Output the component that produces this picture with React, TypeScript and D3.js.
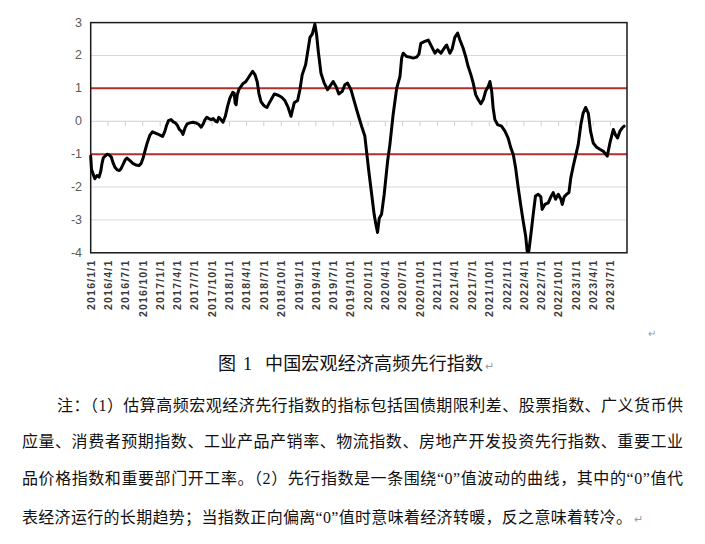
import React from 'react';
import * as d3 from 'd3';

// High-frequency leading index readings (date, index value)
const dates: string[] = [
  '2016-01-01','2016-01-05','2016-01-13','2016-01-23','2016-02-03','2016-02-14','2016-02-23','2016-02-29','2016-03-07','2016-03-18',
  '2016-03-28','2016-04-06','2016-04-18','2016-04-27','2016-05-08','2016-05-20','2016-05-31','2016-06-08','2016-06-19','2016-06-30',
  '2016-07-10','2016-07-26','2016-08-10','2016-08-26','2016-09-11','2016-09-23','2016-10-04','2016-10-13','2016-10-25','2016-11-08',
  '2016-11-22','2016-12-04','2016-12-16','2016-12-31','2017-01-14','2017-01-26','2017-02-04','2017-02-14','2017-02-27','2017-03-11',
  '2017-03-22','2017-04-01','2017-04-12','2017-04-22','2017-05-01','2017-05-12','2017-05-23','2017-06-07','2017-06-23','2017-07-08',
  '2017-07-24','2017-08-05','2017-08-14','2017-08-25','2017-09-04','2017-09-15','2017-09-27','2017-10-07','2017-10-20','2017-10-28',
  '2017-11-06','2017-11-17','2017-11-28','2017-12-10','2017-12-22','2018-01-03','2018-01-18','2018-01-26','2018-01-31','2018-02-05',
  '2018-02-11','2018-02-20','2018-03-02','2018-03-14','2018-03-27','2018-04-08','2018-04-19','2018-05-03','2018-05-15','2018-05-27',
  '2018-06-05','2018-06-16','2018-06-28','2018-07-07','2018-07-17','2018-08-02','2018-08-25','2018-09-15','2018-10-03','2018-10-20',
  '2018-11-06','2018-11-21','2018-12-08','2018-12-26','2019-01-07','2019-01-19','2019-02-06','2019-02-20','2019-03-01','2019-03-13',
  '2019-03-27','2019-04-05','2019-04-14','2019-04-28','2019-05-15','2019-06-02','2019-06-14','2019-07-01','2019-07-16','2019-07-31',
  '2019-08-18','2019-09-01','2019-09-15','2019-10-03','2019-10-20','2019-11-07','2019-11-28','2019-12-15','2019-12-24','2020-01-05',
  '2020-01-20','2020-02-02','2020-02-11','2020-02-20','2020-02-29','2020-03-12','2020-03-26','2020-04-13','2020-04-25','2020-05-12',
  '2020-05-31','2020-06-17','2020-06-26','2020-07-04','2020-07-22','2020-08-08','2020-08-26','2020-09-13','2020-09-25','2020-10-05',
  '2020-10-23','2020-11-13','2020-12-01','2020-12-18','2021-01-01','2021-01-19','2021-02-05','2021-02-18','2021-03-07','2021-03-19',
  '2021-04-02','2021-04-17','2021-04-29','2021-05-16','2021-05-29','2021-06-11','2021-06-26','2021-07-08','2021-07-21','2021-08-03',
  '2021-08-17','2021-08-30','2021-09-11','2021-09-25','2021-10-04','2021-10-13','2021-10-21','2021-10-30','2021-11-13','2021-12-04',
  '2021-12-22','2022-01-08','2022-01-22','2022-02-04','2022-02-16','2022-03-02','2022-03-16','2022-03-28','2022-04-10','2022-04-18',
  '2022-04-27','2022-05-08','2022-05-20','2022-06-01','2022-06-15','2022-06-29','2022-07-06','2022-07-20','2022-08-07','2022-08-21',
  '2022-09-02','2022-09-15','2022-09-29','2022-10-13','2022-10-20','2022-10-30','2022-11-12','2022-11-24','2022-12-04','2022-12-17',
  '2022-12-29','2023-01-12','2023-01-26','2023-02-07','2023-02-20','2023-03-06','2023-03-18','2023-04-01','2023-04-19','2023-05-06',
  '2023-05-24','2023-06-14','2023-06-28','2023-07-16','2023-07-28','2023-08-07','2023-08-20','2023-09-01','2023-09-11',
];

const values: number[] = [
  -1.06,-1.45,-1.60,-1.75,-1.65,-1.70,-1.52,-1.30,-1.12,-1.05,
  -1.00,-1.02,-1.08,-1.25,-1.40,-1.48,-1.50,-1.45,-1.32,-1.18,
  -1.12,-1.20,-1.28,-1.33,-1.35,-1.28,-1.10,-0.90,-0.65,-0.42,
  -0.32,-0.35,-0.38,-0.42,-0.46,-0.30,-0.12,0.02,0.05,-0.02,
  -0.05,-0.12,-0.25,-0.30,-0.40,-0.20,-0.08,-0.05,-0.03,-0.05,
  -0.10,-0.18,-0.10,0.05,0.12,0.08,0.05,0.08,0.00,-0.02,
  0.12,0.05,-0.03,0.15,0.45,0.70,0.88,0.85,0.55,0.50,
  0.80,0.97,1.05,1.15,1.20,1.30,1.40,1.52,1.42,1.20,
  0.85,0.60,0.50,0.45,0.42,0.59,0.83,0.79,0.73,0.63,
  0.42,0.15,0.56,0.63,0.96,1.41,1.72,2.22,2.55,2.65,
  2.95,2.63,2.12,1.46,1.16,0.96,1.06,1.21,1.06,0.83,
  0.91,1.11,1.16,0.96,0.61,0.25,-0.15,-0.45,-0.91,-1.52,
  -2.22,-2.83,-3.13,-3.38,-2.95,-2.83,-2.22,-1.21,-0.71,0.20,
  1.01,1.36,1.92,2.07,1.97,1.95,1.92,1.95,2.04,2.37,
  2.42,2.47,2.27,2.07,2.17,2.07,2.22,2.32,2.07,2.20,
  2.55,2.68,2.47,2.22,1.97,1.67,1.41,1.16,0.81,0.66,
  0.53,0.66,0.91,1.06,1.21,0.93,0.40,0.05,-0.10,-0.15,
  -0.30,-0.51,-0.81,-1.01,-1.41,-2.02,-2.58,-3.03,-3.48,-3.95,
  -3.95,-3.43,-2.83,-2.27,-2.22,-2.30,-2.68,-2.53,-2.48,-2.30,
  -2.17,-2.37,-2.22,-2.37,-2.53,-2.30,-2.22,-2.17,-1.72,-1.36,
  -1.06,-0.71,-0.10,0.25,0.42,0.25,-0.30,-0.66,-0.79,-0.85,
  -0.91,-1.06,-0.66,-0.25,-0.42,-0.51,-0.30,-0.20,-0.15,
];

// Quarterly category ticks along the horizontal axis
const tickDates: string[] = [
  '2016-01-01','2016-04-01','2016-07-01','2016-10-01','2017-01-01','2017-04-01','2017-07-01','2017-10-01',
  '2018-01-01','2018-04-01','2018-07-01','2018-10-01','2019-01-01','2019-04-01','2019-07-01','2019-10-01',
  '2020-01-01','2020-04-01','2020-07-01','2020-10-01','2021-01-01','2021-04-01','2021-07-01','2021-10-01',
  '2022-01-01','2022-04-01','2022-07-01','2022-10-01','2023-01-01','2023-04-01','2023-07-01',
];
const axisDomain: string[] = ['2016-01-01', '2023-09-26'];

const yTicks: number[] = [3, 2, 1, 0, -1, -2, -3, -4];
const gridValues: number[] = [2, -2, -3];
const bandValues: number[] = [1, -1];

const captionLabel = '图';
const captionNumber = '1';
const captionTitle = '中国宏观经济高频先行指数';
const noteLines: string[] = [
  '注：（1）估算高频宏观经济先行指数的指标包括国债期限利差、股票指数、广义货币供',
  '应量、消费者预期指数、工业产品产销率、物流指数、房地产开发投资先行指数、重要工业',
  '品价格指数和重要部门开工率。（2）先行指数是一条围绕“0”值波动的曲线，其中的“0”值代',
  '表经济运行的长期趋势；当指数正向偏离“0”值时意味着经济转暖，反之意味着转冷。',
];

const parse = d3.utcParse('%Y-%m-%d');
const fmt = d3.utcFormat('%Y/%-m/%-d');

export default function App() {
  const W = 705;
  const H = 544;
  const left = 90.7;
  const right = 627;
  const top = 22.6;
  const bottom = 252.8;

  const x = d3.scaleUtc()
    .domain(axisDomain.map((s) => parse(s) as Date))
    .range([left, right]);
  const y = d3.scaleLinear().domain([-4, 3]).range([bottom, top]);

  const points: [number, number][] = dates.map((d, i) => [x(parse(d) as Date), y(values[i])]);
  const path = d3.line().curve(d3.curveLinear)(points) || '';

  const textFont = "'Liberation Serif', 'Noto Sans CJK SC', serif";
  const noteStyle = [
    { x: 57, y: 411, len: 626 },
    { x: 22, y: 447, len: 661 },
    { x: 22, y: 484, len: 661 },
    { x: 22, y: 523, len: 610 },
  ];
  const mark = '#9a9a9a';

  return (
    <svg
      width={W}
      height={H}
      viewBox={`0 0 ${W} ${H}`}
      style={{ position: 'absolute', left: 0, top: 0, background: '#fff' }}
    >
      <rect x={0} y={0} width={W} height={H} fill="#fff" />

      {/* horizontal gridlines */}
      {gridValues.map((v) => (
        <line key={`g${v}`} x1={left} x2={right} y1={y(v)} y2={y(v)} stroke="#d9d9d9" strokeWidth={1} />
      ))}

      {/* category axis through zero with quarterly ticks */}
      <line x1={left} x2={right} y1={y(0)} y2={y(0)} stroke="#d0d0d0" strokeWidth={1} />
      {tickDates.map((t) => {
        const tx = x(parse(t) as Date);
        return <line key={`t${t}`} x1={tx} x2={tx} y1={y(0)} y2={y(0) + 5} stroke="#d0d0d0" strokeWidth={1} />;
      })}

      {/* ±1 reference lines */}
      {bandValues.map((v) => (
        <line key={`b${v}`} x1={left} x2={right} y1={y(v)} y2={y(v)} stroke="#b0302e" strokeWidth={2} />
      ))}

      {/* plot frame */}
      <rect x={left} y={top} width={right - left} height={bottom - top} fill="none" stroke="#1a1a1a" strokeWidth={1.5} />

      {/* index line */}
      <path d={path} fill="none" stroke="#000" strokeWidth={3} strokeLinejoin="round" strokeLinecap="round" />

      {/* value axis labels */}
      {yTicks.map((v) => (
        <text
          key={`y${v}`}
          x={82}
          y={y(v)}
          dominantBaseline="central"
          textAnchor="end"
          fontFamily="'Liberation Sans', Arial, sans-serif"
          fontSize={12.5}
          fill="#595959"
        >
          {v}
        </text>
      ))}

      {/* rotated date labels */}
      {tickDates.map((t) => {
        const tx = x(parse(t) as Date);
        return (
          <text
            key={`l${t}`}
            transform={`translate(${tx + 3.8},259.5) rotate(-90)`}
            textAnchor="end"
            fontFamily="'Liberation Sans', Arial, sans-serif"
            fontWeight="bold"
            fontSize={10.5}
            letterSpacing={1.2}
            fill="#3a3a3a"
          >
            {fmt(parse(t) as Date)}
          </text>
        );
      })}

      <text x={648} y={337} fontSize={10} fill={mark} fontFamily={textFont}>↵</text>

      {/* caption */}
      <g fontFamily={textFont} fontSize={18} fill="#111">
        <text x={218} y={370}>{captionLabel}</text>
        <text x={243} y={370}>{captionNumber}</text>
        <text x={265} y={370} textLength={218} lengthAdjust="spacing">{captionTitle}</text>
        <text x={485} y={370} fontSize={11} fill={mark}>↵</text>
      </g>

      {/* notes */}
      {noteLines.map((s, i) => {
        const st = noteStyle[i];
        return (
          <text
            key={`n${i}`}
            x={st.x}
            y={st.y}
            fontFamily={textFont}
            fontSize={16}
            fill="#111"
            textLength={st.len}
            lengthAdjust="spacing"
          >
            {s}
          </text>
        );
      })}
      <text x={634} y={523} fontSize={11} fill={mark} fontFamily={textFont}>↵</text>
    </svg>
  );
}
